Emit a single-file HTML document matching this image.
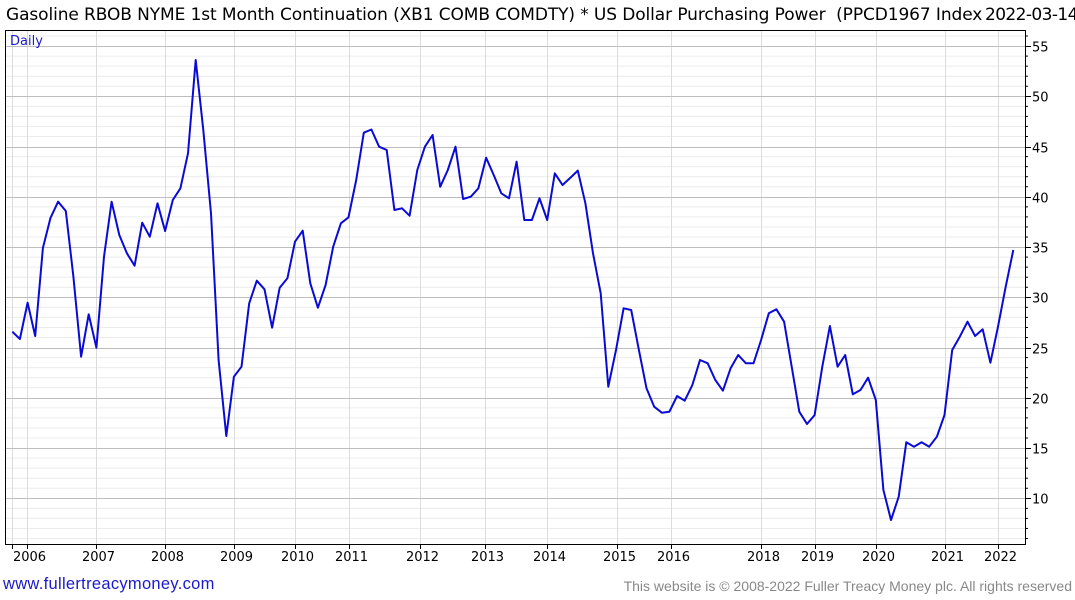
<!DOCTYPE html>
<html><head><meta charset="utf-8"><style>
body{margin:0;background:#fff;width:1075px;height:600px;overflow:hidden;font-family:"Liberation Sans","DejaVu Sans",sans-serif}
#title{position:absolute;left:6px;top:5px;font-size:17px;color:#000;white-space:pre;font-family:"DejaVu Sans","Liberation Sans",sans-serif;letter-spacing:-0.1px}
#date{position:absolute;left:985px;top:5px;font-size:17px;background:#fff;white-space:nowrap;font-family:"DejaVu Sans","Liberation Sans",sans-serif;letter-spacing:-0.6px}
#foot-l{position:absolute;left:3px;top:575px;font-size:16.5px;color:#1a1acc;letter-spacing:0.3px}
#foot-r{position:absolute;right:3px;top:578px;font-size:14px;color:#888}
</style></head><body>
<div id="title">Gasoline RBOB NYME 1st Month Continuation (XB1 COMB COMDTY) * US Dollar Purchasing Power  (PPCD1967 Index</div>
<div id="date">2022-03-14</div>
<svg id="chart" width="1075" height="600" style="position:absolute;left:0;top:0;pointer-events:none"></svg>
<div id="foot-l">www.fullertreacymoney.com</div>
<div id="foot-r">This website is © 2008-2022 Fuller Treacy Money plc. All rights reserved</div>
<script>
const values=[26.58,25.85,29.46,26.15,34.91,37.90,39.51,38.59,32.05,24.09,28.31,24.99,34.04,39.51,36.20,34.38,33.14,37.42,36.03,39.35,36.60,39.68,40.85,44.33,53.61,46.65,38.36,23.76,16.20,22.10,23.09,29.40,31.65,30.80,26.98,30.96,31.89,35.53,36.63,31.39,28.97,31.22,35.03,37.36,37.96,41.67,46.38,46.70,44.99,44.66,38.69,38.86,38.12,42.67,44.99,46.15,41.00,42.67,44.99,39.78,40.01,40.85,43.89,42.17,40.35,39.85,43.49,37.69,37.69,39.85,37.69,42.34,41.17,41.87,42.61,39.35,34.38,30.40,21.10,24.76,28.91,28.74,24.76,20.95,19.11,18.52,18.62,20.18,19.71,21.28,23.76,23.43,21.77,20.71,22.94,24.26,23.43,23.43,25.75,28.41,28.81,27.57,23.09,18.62,17.39,18.28,23.09,27.14,23.09,24.26,20.35,20.78,22.00,19.78,10.83,7.84,10.16,15.57,15.13,15.57,15.13,16.13,18.29,24.76,26.08,27.57,26.15,26.82,23.49,27.07,31.05,34.71];
const yTicks=[10,15,20,25,30,35,40,45,50,55];
const xTickLabels=["","2006","2007","2008","2009","2010","2011","2012","2013","2014","2015","2016","2018","2019","2020","2021","2022"];
const xTickIdx=[0,1.9,11,20,29,37,44,53.3,61.9,70,79.1,86.2,98,105,113,122.1,129];
const svg=document.getElementById('chart');
const NS='http://www.w3.org/2000/svg';
const L=5,R=1025,T=30,B=544;
const x0=12.3,x1=1013.3;
function xs(i){return x0+(x1-x0)*i/(values.length-1);}
function ys(v){return 498.3-(v-10)*10.05;}
function mk(tag,attrs){const e=document.createElementNS(NS,tag);for(const k in attrs)e.setAttribute(k,attrs[k]);svg.appendChild(e);return e;}
for(let v=6;v<=56;v++){if(v%5===0)continue;const y=ys(v);if(y<T||y>B)continue;
const g=mk('line',{x1:L,x2:R,y1:y,y2:y,stroke:'#ececec','stroke-width':1});


const t=mk('line',{x1:R,x2:R+3,y1:y,y2:y,stroke:'#000','stroke-width':1});

}
xTickIdx.forEach((ix,k)=>{const x=Math.round(xs(ix))+0.5;
const g=mk('line',{x1:x,x2:x,y1:T,y2:B,stroke:'#dcdcdc','stroke-width':1});


const t=mk('line',{x1:x,x2:x,y1:B,y2:B+5,stroke:'#000','stroke-width':1});


if(xTickLabels[k]){const tx=mk('text',{x:x+2,y:561,'font-size':13,'text-anchor':'middle','font-family':'DejaVu Sans, Liberation Sans, sans-serif',fill:'#000'});
tx.textContent=xTickLabels[k];

}});
yTicks.forEach(v=>{const y=Math.round(ys(v))+0.5;
const g=mk('line',{x1:L,x2:R,y1:y,y2:y,stroke:'#bdbdbd','stroke-width':1});


const t=mk('line',{x1:R,x2:R+6,y1:y,y2:y,stroke:'#000','stroke-width':1});


const tx=mk('text',{x:1032,y:y+5,'font-size':13,'font-family':'DejaVu Sans, Liberation Sans, sans-serif',fill:'#000'});
tx.textContent=v;

});
const fr=mk('rect',{x:L+0.5,y:T+0.5,width:R-L,height:B-T,fill:'none',stroke:'#000','stroke-width':1});


const dl=mk('text',{x:10,y:45,'font-size':13,fill:'#1a1acc','font-family':'DejaVu Sans, Liberation Sans, sans-serif'});
dl.textContent='Daily';


const pts=values.map((v,i)=>xs(i).toFixed(1)+','+ys(v).toFixed(1)).join(' ');
const line=mk('polyline',{points:pts,fill:'none',stroke:'#0a0ad6','stroke-width':2,'stroke-linejoin':'round'});


</script>
</body></html>
